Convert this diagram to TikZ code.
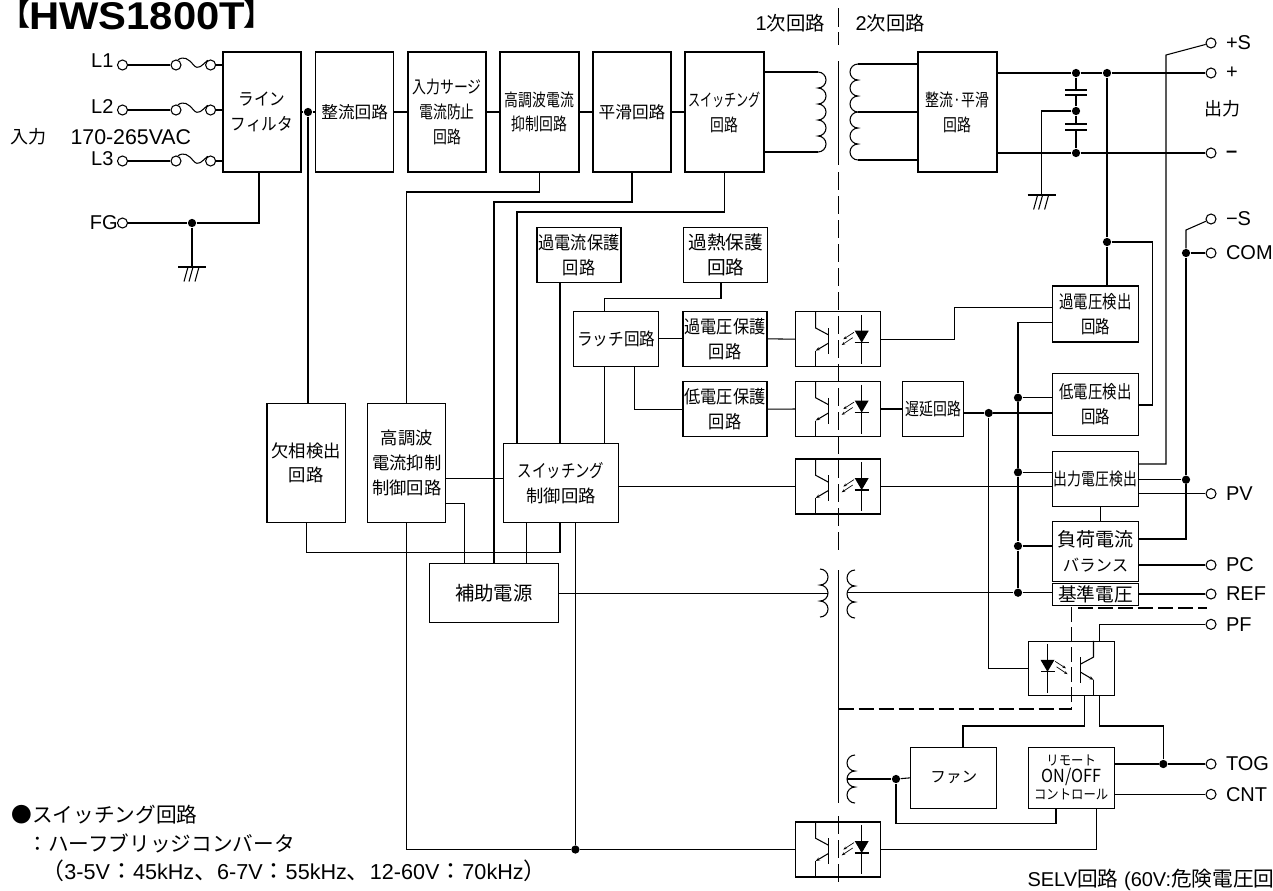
\documentclass[tikz,border=0pt]{standalone}
\usepackage{fontspec}
\usepackage{graphicx}
\setmainfont{Liberation Sans}
\newfontfamily\jp{Noto Sans CJK JP}
\newfontfamily\jpl[FakeStretch=0.9]{Noto Sans CJK JP}
\newfontfamily\jpm[FakeStretch=0.8]{Noto Sans CJK JP}
\newfontfamily\jpn[FakeStretch=0.7]{Noto Sans CJK JP}
\usetikzlibrary{arrows.meta}
\newcommand{\jpsz}[1]{\jp\fontsize{#1}{18.6}\selectfont}
\newcommand{\jplsz}[1]{\jpl\fontsize{#1}{18.6}\selectfont}
\newcommand{\jpmsz}[1]{\jpm\fontsize{#1}{18.6}\selectfont}
\newcommand{\jpnsz}[1]{\jpn\fontsize{#1}{18.6}\selectfont}
\newcommand{\jpwide}[1]{{\jp\fontsize{17.2}{18}\selectfont #1}}
\tikzset{
  blk/.style 2 args={draw, inner sep=0pt, outer sep=0pt, align=center,
    minimum width=#1*0.75pt, minimum height=#2*0.75pt},
  term/.style={draw, circle, fill=white, inner sep=0pt, minimum size=7.5pt},
  jdot/.style={fill, circle, inner sep=0pt, minimum size=6.2pt},
  lbl/.style={anchor=west, inner sep=0pt, font=\fontsize{15}{18}\selectfont},
  jplbl/.style={anchor=west, inner sep=0pt, font=\jpsz{15.5}},
  cutline/.style={dash pattern=on 13.5pt off 4.5pt},
  cutlineh/.style={dash pattern=on 11.5pt off 3.5pt},
  pics/lcoil/.style={code={
    \draw (0,0) foreach \k in {1,...,#1} {arc[start angle=90, end angle=270, radius=6pt]};
  }},
  pics/rcoil/.style={code={
    \draw (0,0) foreach \k in {1,...,#1} {arc[start angle=90, end angle=-90, radius=6pt]};
  }},
  pics/gnd/.style={code={
    \draw (-14,0) -- (14,0);
    \draw (-4,0) -- (-8,14.5);
    \draw (1,0) -- (-3,14.5);
    \draw (7,0) -- (3,14.5);
  }},
  pics/opto/.style={code={
    \draw (-22.3,-27.5) -- (-22.3,-11.2) -- (-9.3,-4.2);
    \draw (-9.3,-11.2) -- (-9.3,14.8);
    \draw[-{Stealth[length=3.2pt,width=2.4pt]}] (-9.3,3.8) -- (-22.3,11.5);
    \draw (-22.3,11.5) -- (-22.3,27.5);
    \draw (23.7,-24.2) -- (23.7,24.8);
    \fill (16.7,-8.5) -- (30.7,-8.5) -- (23.7,3.5) -- cycle;
    \draw (16.7,3.5) -- (30.7,3.5);
    \draw[-{Stealth[length=2.6pt,width=2pt]}, line width=0.5pt] (16,-6.9) -- (5.3,0);
    \draw[-{Stealth[length=2.6pt,width=2pt]}, line width=0.5pt] (14.7,-1.5) -- (3.7,5.8);
  }}
}
\begin{document}
\begin{tikzpicture}[x=0.75pt, y=-0.75pt, line width=0.8pt]
  \useasboundingbox (0,0) rectangle (1273,890);

  % ── Title and notes ──────────────────────────────────────────────
  \node[anchor=base west, inner sep=0pt, font=\fontsize{29}{31}\selectfont\bfseries] (title) at (0,29)
    {\raisebox{2.7pt}{\jp\fontsize{22.5}{24}\selectfont 【}\kern-1pt\scalebox{1.08}[1]{HWS1800T}\kern-1pt\raisebox{2.7pt}{\jp\fontsize{22.5}{24}\selectfont 】}};
  \node[jplbl] (note1) at (11,815) {●スイッチング回路};
  \node[jplbl] (note2) at (27,843) {：ハーフブリッジコンバータ};
  \node[lbl, font=\fontsize{16.2}{18}\selectfont] (note3) at (41,871)
    {\jpwide{（}3-5V\jpwide{：}45kHz\jpwide{、}6-7V\jpwide{：}55kHz\jpwide{、}12-60V\jpwide{：}70kHz\jpwide{）}};
  \node[lbl, font=\fontsize{15}{18}\selectfont] (selv) at (1027,880) {SELV{\jp\fontsize{15.5}{18}\selectfont 回路} (60V:{\jp\fontsize{15.5}{18}\selectfont 危険電圧回}};
  \node[jplbl, font=\jpsz{13.5}] (side1) at (10,137) {入力};
  \node[lbl, font=\fontsize{16}{18}\selectfont] (vac) at (70,137) {170-265VAC};
  \node[lbl, font=\fontsize{15}{18}\selectfont] (prim) at (755,23) {1{\jp\fontsize{14.5}{18}\selectfont 次回路}};
  \node[lbl, font=\fontsize{15}{18}\selectfont] (seco) at (855,23) {2{\jp\fontsize{14.5}{18}\selectfont 次回路}};
  \node[jplbl, font=\jpsz{13.5}] (outp) at (1204,109) {出力};

  % ── Top row ──────────────────────────────────────────────────────
  \node[blk={78}{120}, font=\jplsz{13}]    (filt)  at (262,112)   {ライン\\フィルタ};
  \node[blk={78.5}{120}, font=\jpsz{12.5}] (rect)  at (354.7,112) {整流回路};
  \node[blk={78}{120}, font=\jpmsz{13}]    (surge) at (447,112)   {入力サージ\\電流防止\\回路};
  \node[blk={79}{120}, font=\jpmsz{13}]    (hrm)   at (539.5,112) {高調波電流\\抑制回路};
  \node[blk={78}{120}, font=\jpsz{12.5}]   (smo)   at (632,112)   {平滑回路};
  \node[blk={79}{120}, font=\jpnsz{13}]    (sw)    at (724.5,112) {スイッチング\\{\jpm 回路}};
  \node[blk={79}{120}, font=\jpmsz{13}]    (rs)    at (957.5,112) {整流·平滑\\回路};

  % ── Primary blocks ───────────────────────────────────────────────
  \node[blk={84}{55.4}, font=\jplsz{13.5}] (ocp)   at (579,255)     {過電流保護\\回路};
  \node[blk={84.5}{55.4}, font=\jpsz{14}]  (otp)   at (725.7,255)   {過熱保護\\回路};
  \node[blk={84.7}{55}, font=\jplsz{13}]   (latch) at (616.3,338.8) {ラッチ回路};
  \node[blk={84}{55}, font=\jplsz{13.5}]   (ovp)   at (725,338.8)   {過電圧保護\\回路};
  \node[blk={84}{55}, font=\jplsz{13.5}]   (uvp)   at (725,409.2)   {低電圧保護\\回路};
  \node[blk={78.4}{119}, font=\jpsz{13}]   (pl)    at (306.2,462.8) {欠相検出\\回路};
  \node[blk={77.8}{119}, font=\jpsz{13}]   (hcc)   at (406.7,462.8) {高調波\\電流抑制\\制御回路};
  \node[blk={115}{79}, font=\jpsz{13}]     (ctrl)  at (561,482.8)   {{\jpm\fontsize{13.5}{18.6}\selectfont スイッチング}\\制御回路};
  \node[blk={129}{58.7}, font=\jpsz{14.5}] (aux)   at (493.8,593.3) {補助電源};

  % ── Secondary blocks ─────────────────────────────────────────────
  \node[blk={60.7}{55.4}, font=\jpmsz{13}]  (delay) at (933.3,409)    {遅延回路};
  \node[blk={86.4}{56}, font=\jpmsz{13.5}]  (ovd)   at (1095.5,314)   {過電圧検出\\回路};
  \node[blk={86.4}{62}, font=\jpmsz{13.5}]  (uvd)   at (1095.5,404.3) {低電圧検出\\回路};
  \node[blk={86.4}{55.4}, font=\jpmsz{13}]  (vsen)  at (1095.5,479)   {出力電圧検出};
  \node[blk={86.4}{60}, font=\jpsz{14.3}]   (load)  at (1095.5,551.3) {負荷電流\\{\fontsize{12.3}{18.6}\selectfont バランス}};
  \node[blk={86.4}{21.7}, font=\jpsz{14}]   (vref)  at (1095.5,594.2) {基準電圧};
  \node[blk={86.3}{61}, font=\jpsz{11.7}]   (fan)   at (953.8,777.8)  {ファン};
  \node[blk={86.3}{61}, font=\jpl\fontsize{10.3}{12.75}\selectfont] (rem) at (1071.2,777.8) {リモート\\{\fontsize{13.5}{12.75}\selectfont ON/OFF}\\コントロール};

  % ── Photocouplers ────────────────────────────────────────────────
  \foreach \nm/\yy in {opt1/339.2, opt2/409, opt3/486.5, opt4/849.5}
    { \node[blk={84.6}{55}] (\nm) at (838,\yy) {}; \pic at (838,\yy) {opto}; }
  \node[blk={86.3}{54}] (optf) at (1071.2,668.3) {};
  \pic[xscale=-1] at (1071.2,668.3) {opto};

  % ── Input side ───────────────────────────────────────────────────
  \foreach \nm/\yy/\ly in {L1/65/61, L2/110/107, L3/161/159}
    {
      \node[term] (t\nm) at (122.5,\yy) {};
      \node[lbl] (l\nm) at (90.6,\ly) {\nm};
      \node[term] (f\nm a) at (176,\yy) {};
      \node[term] (f\nm b) at (210.6,\yy) {};
      \draw (t\nm) -- (f\nm a);
      \draw (f\nm b) -- (filt.west |- f\nm b);
      \draw (f\nm a.70) .. controls +(6,-4) and +(-5,-6) .. ++(15.5,5)
                        .. controls +(5,6) and +(-6,5) .. (f\nm b.120);
    }
  \node[term] (tFG) at (122.5,223) {};
  \node[lbl] (lFG) at (89.4,223) {FG};
  \node[jdot] (dFG) at (192,223) {};
  \draw (tFG) -- (dFG);
  \draw (dFG) -- (259,223) -- (259,0 |- filt.south);
  \coordinate (gnda) at (192,267);
  \draw (dFG) -- (gnda);
  \pic at (gnda) {gnd};

  % ── Top row links ────────────────────────────────────────────────
  \node[jdot] (dAC) at (308,112) {};
  \draw (filt.east) -- (dAC);
  \draw (dAC) -- (rect.west);
  \draw (rect.east) -- (surge.west);
  \draw (surge.east) -- (hrm.west);
  \draw (hrm.east) -- (smo.west);
  \draw (smo.east) -- (sw.west);
  \draw (dAC) -- (dAC |- pl.north);
  \draw (hrm.south) -- (hrm.south |- 0,192) -| (hcc.north);
  \draw (smo.south) -- (smo.south |- 0,202) -- (494,202) -- (494,0 |- aux.north);
  \draw (sw.south) -- (sw.south |- 0,212) -- (517,212) -- (517,0 |- ctrl.north);

  % ── Primary links ────────────────────────────────────────────────
  \draw (560,0 |- ocp.south) -- (560,0 |- ctrl.north);
  \draw (604.3,0 |- ctrl.north) -- (604.3,0 |- latch.south);
  \draw (604.3,0 |- latch.north) -- (604.3,298.3) -- (721,298.3) -- (721,0 |- otp.south);
  \draw (latch.east) -- (ovp.west);
  \draw (634.6,0 |- latch.south) |- (uvp.west);
  \draw (ovp.east) -- (opt1.west);
  \draw (uvp.east) -- (opt2.west);
  \draw (ctrl.east |- opt3.west) -- (opt3.west);
  \draw (hcc.east |- 0,478.7) -- (ctrl.west |- 0,478.7);
  \draw (hcc.east |- 0,503.7) -- (464.3,503.7) -- (464.3,0 |- aux.north);
  \draw (pl.south) -- (pl.south |- 0,552.3) -- (560,552.3) -- (560,0 |- ctrl.south);
  \draw (526.7,0 |- ctrl.south) -- (526.7,0 |- aux.north);
  \node[jdot] (dPD) at (575.4,849.5) {};
  \draw (575.4,0 |- ctrl.south) -- (dPD);
  \draw (hcc.south) |- (dPD);
  \draw (dPD) -- (opt4.west);

  % ── Transformers ─────────────────────────────────────────────────
  \coordinate (pc) at (818,72);
  \coordinate (pd) at (818,152);
  \pic at (pc) {rcoil=5};
  \draw (sw.east |- pc) -- (pc);
  \draw (sw.east |- pd) -- (pd);
  \foreach \nm/\yy in {sa/64, sb/112, sc/160}
    { \coordinate (\nm) at (858,\yy); \draw (\nm) -- (rs.west |- \nm); }
  \pic at (sa) {lcoil=6};
  \pic at (820,569) {rcoil=3};
  \pic at (855,570) {lcoil=3};
  \pic at (855,755) {lcoil=3};
  \draw (aux.east) -- (828,0 |- aux.east);

  % ── Isolation line ───────────────────────────────────────────────
  \draw[dash pattern=on 14pt off 4pt] (838.5,8) -- (838.5,45);
  \draw (838.5,61) -- (838.5,165);
  \draw[cutline] (838.5,172) -- (838.5,553);
  \draw (838.5,570) -- (838.5,803);
  \draw[cutline] (838.5,816) -- (838.5,886);
  \draw[cutlineh] (838.5,709) -- (1071.7,709) -- (1071.7,0 |- vref.south);
  \draw[cutlineh] (1078,608) -- (1207,608);

  % ── Output terminals ─────────────────────────────────────────────
  \foreach \nm/\yy/\txt in {sp/43/+S, op/73/+, sm/219/−S, com/253/COM, pv/493.7/PV, pc/565/PC, ref/594/REF, pf/624.3/PF, tog/764/TOG, cnt/794.3/CNT}
    { \node[term] (t\nm) at (1211,\yy) {}; \node[lbl] (l\nm) at (1225.5,\yy) {\txt}; }
  \node[term] (tom) at (1211,153) {};
  \node[lbl] (lom) at (1225.5,154) {\textbf{–}};

  \node[jdot] (dca) at (1076,73) {};
  \node[jdot] (dcb) at (1107,73) {};
  \node[jdot] (dcc) at (1076,111) {};
  \node[jdot] (dcd) at (1076,153) {};
  \draw (rs.east |- dca) -- (dca);
  \draw (dca) -- (dcb);
  \draw (dcb) -- (top);
  \draw (rs.east |- dcd) -- (dcd);
  \draw (dcd) -- (tom);
  \draw (dca) -- (1076,90);
  \draw (1076,95) -- (dcc);
  \draw (dcc) -- (1076,124);
  \draw (1076,130) -- (dcd);
  \foreach \yy in {90,95,124,130}
    { \draw (1065,\yy) -- (1087,\yy); }
  \draw (dcc) -- (1041.6,111) -- (1041.6,195);
  \pic at (1041.6,195) {gnd};

  % sense and detector wiring
  \node[jdot] (dov) at (1107,242) {};
  \draw (dcb) -- (dov);
  \draw (dov) -- (1107,0 |- ovd.north);
  \draw (dov) -- (1152.7,242) -- (1152.7,405) -- (uvd.east |- 0,405);
  \draw (tsp) -- (1166,55) -- (1166,464) -- (vsen.east |- 0,464);
  \node[jdot] (dsm) at (1186,253) {};
  \node[jdot] (dpv) at (1186,479.7) {};
  \draw (tsm) -- (1186,230) -- (dsm);
  \draw (dsm) -- (tcom);
  \draw (dsm) -- (dpv);
  \draw (dpv) -- (1186,539) -- (load.east |- 0,539);
  \draw (vsen.east |- dpv) -- (dpv);
  \draw (vsen.east |- tpv) -- (tpv);
  \draw (load.east |- tpc) -- (tpc);
  \draw (vref.east |- tref) -- (tref);
  \draw (1100.3,0 |- vsen.south) -- (1100.3,0 |- load.north);

  \draw (opt1.east) -- (954.3,0 |- opt1.east) -- (954.3,307.3) -- (ovd.west |- 0,307.3);
  \draw (opt2.east) -- (delay.west);
  \draw (opt3.east) -- (vsen.west |- opt3.east);

  \node[jdot] (dda) at (988.7,413) {};
  \draw (delay.east |- dda) -- (dda);
  \draw (dda) -- (uvd.west |- dda);
  \draw (dda) |- (optf.west);

  \node[jdot] (dva) at (1018,397.7) {};
  \node[jdot] (dvb) at (1018,472.3) {};
  \node[jdot] (dvc) at (1018,546) {};
  \node[jdot] (dvd) at (1018,592.7) {};
  \draw (ovd.west |- 0,322.7) -- (1018,322.7) -- (dva);
  \draw (dva) -- (dvb);
  \draw (dvb) -- (dvc);
  \draw (dvc) -- (dvd);
  \draw (dva) -- (uvd.west |- dva);
  \draw (dvb) -- (vsen.west |- dvb);
  \draw (dvc) -- (load.west |- dvc);
  \draw (847,592.7) -- (dvd);
  \draw (dvd) -- (vref.west |- dvd);

  % ── PF and remote section ────────────────────────────────────────
  \draw (tpf) -- (1099.3,0 |- tpf) -- (1099.3,0 |- optf.north);
  \draw (1084.7,0 |- optf.south) -- (1084.7,726) -- (963,726) -- (963,0 |- fan.north);
  \node[jdot] (dto) at (1163.3,764) {};
  \draw (1099.3,0 |- optf.south) -- (1099.3,726) -- (1163.3,726) -- (dto);
  \draw (rem.east |- dto) -- (dto);
  \draw (dto) -- (ttog);
  \draw (rem.east |- tcnt) -- (tcnt);
  \node[jdot] (dfa) at (896,779) {};
  \draw (847,779) -- (dfa);
  \draw (dfa) -- (fan.west);
  \draw (dfa) -- (896,823.3) -- (1056,823.3) -- (1056,0 |- rem.south);
  \draw (1096.7,0 |- rem.south) -- (1096.7,0 |- opt4.east) -- (opt4.east);
\end{tikzpicture}
\end{document}
